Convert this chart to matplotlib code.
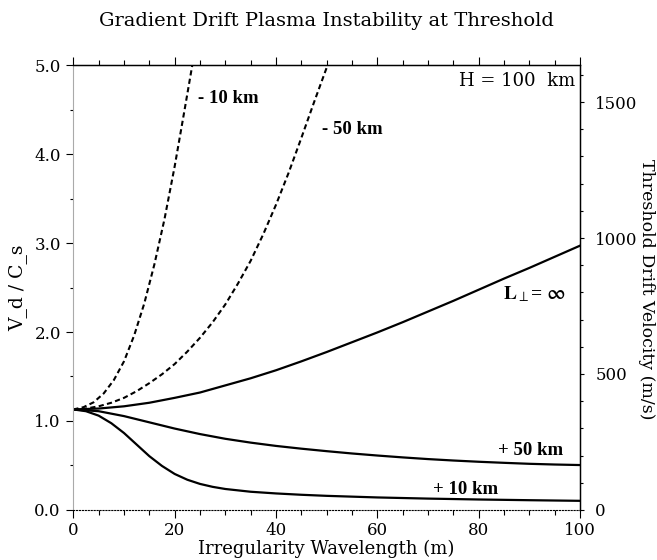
import numpy as np
import matplotlib
matplotlib.use('Agg')
import matplotlib.pyplot as plt
from matplotlib.ticker import MultipleLocator

plt.rcParams['mathtext.fontset'] = 'stix'

# curves: wavelength (m) -> V_d / C_s
x_inf = [0, 5, 10, 15, 20, 25, 30, 35, 40, 45, 50, 55, 60, 65, 70, 75, 80, 85, 90, 95, 100]
v_inf = [1.13, 1.14, 1.165, 1.205, 1.26, 1.32, 1.40, 1.48, 1.57, 1.67, 1.775, 1.885, 1.995, 2.11, 2.23, 2.35, 2.475, 2.60, 2.72, 2.845, 2.97]

x_p50 = [0, 5, 10, 15, 20, 25, 30, 35, 40, 45, 50, 55, 60, 65, 70, 75, 80, 85, 90, 95, 100]
v_p50 = [1.13, 1.11, 1.055, 0.985, 0.915, 0.853, 0.80, 0.757, 0.72, 0.689, 0.661, 0.635, 0.612, 0.591, 0.572, 0.556, 0.542, 0.53, 0.519, 0.511, 0.505]

x_p10 = [0, 2.5, 5, 7.5, 10, 12.5, 15, 17.5, 20, 22.5, 25, 27.5, 30, 35, 40, 45, 50, 60, 70, 80, 90, 100]
v_p10 = [1.13, 1.11, 1.06, 0.975, 0.865, 0.735, 0.605, 0.495, 0.405, 0.34, 0.293, 0.26, 0.236, 0.205, 0.186, 0.171, 0.159, 0.141, 0.128, 0.118, 0.11, 0.103]

x_m10 = [0, 2, 4, 6, 8, 10, 12, 14, 16, 18, 20, 22, 24]
v_m10 = [1.13, 1.155, 1.21, 1.31, 1.46, 1.67, 1.96, 2.32, 2.76, 3.27, 3.86, 4.51, 5.17]

x_m50 = [0, 2.5, 5, 7.5, 10, 12.5, 15, 17.5, 20, 22.5, 25, 27.5, 30, 32.5, 35, 37.5, 40, 42.5, 45, 47.5, 50, 52.5]
v_m50 = [1.13, 1.14, 1.165, 1.205, 1.26, 1.335, 1.425, 1.525, 1.64, 1.78, 1.935, 2.11, 2.31, 2.545, 2.80, 3.10, 3.43, 3.79, 4.18, 4.58, 4.97, 5.36]

cs = 327.2  # m/s per unit of V_d/C_s (right axis)

serif = 'DejaVu Serif'
bold = 'Liberation Serif'

fig = plt.figure(figsize=(6.57, 5.6), dpi=100)
ax = fig.add_axes([0.1116, 0.0893, 0.7712, 0.7946])

ax.plot(x_inf, v_inf, color='black', lw=1.6)
ax.plot(x_p50, v_p50, color='black', lw=1.6)
ax.plot(x_p10, v_p10, color='black', lw=1.6)
ax.plot(x_m10, v_m10, color='black', lw=1.5, ls=(0, (2.5, 1.6)))
ax.plot(x_m50, v_m50, color='black', lw=1.5, ls=(0, (2.5, 1.6)))

ax.set_xlim(0, 100)
ax.set_ylim(0, 5.0)

ax.xaxis.set_major_locator(MultipleLocator(20))
ax.xaxis.set_minor_locator(MultipleLocator(5))
ax.yaxis.set_major_locator(MultipleLocator(1.0))
ax.yaxis.set_minor_locator(MultipleLocator(0.5))
ax.set_yticklabels(['%.1f' % v for v in ax.get_yticks()])
ax.tick_params(axis='x', which='both', direction='out', top=True, labeltop=False, width=0.8)
ax.tick_params(axis='x', which='major', length=6, pad=3, labelsize=12)
ax.tick_params(axis='x', which='minor', length=3.5)
ax.tick_params(axis='y', which='major', direction='out', length=5, pad=4, labelsize=12, width=0.8)
ax.tick_params(axis='y', which='minor', direction='out', length=2, width=0.8)
for lab in ax.get_xticklabels() + ax.get_yticklabels():
    lab.set_family(serif)

ax.spines['left'].set_color('#aaaaaa')
ax.spines['bottom'].set_linestyle(':')
ax.spines['bottom'].set_linewidth(0.8)
ax.spines['top'].set_linewidth(1.0)

ax2 = ax.twinx()
ax2.set_ylim(0, 5.0 * cs)
ax2.yaxis.set_major_locator(MultipleLocator(500))
ax2.yaxis.set_minor_locator(MultipleLocator(100))
ax2.tick_params(axis='y', which='major', direction='out', length=3, pad=8, labelsize=12, width=0.8)
ax2.tick_params(axis='y', which='minor', direction='out', length=2, width=0.8)
for lab in ax2.get_yticklabels():
    lab.set_family(serif)
ax2.spines['right'].set_linewidth(1.0)
ax2.spines['left'].set_visible(False)
ax2.spines['bottom'].set_visible(False)

ax.set_xlabel('Irregularity Wavelength (m)', family=serif, fontsize=13, labelpad=0)
fig.text(18 / 657, 0.487, 'V_d / C_s', family=serif, fontsize=13.5, rotation=90,
         ha='center', va='center')
fig.text(646 / 657, 0.483, 'Threshold Drift Velocity (m/s)', family=serif, fontsize=12.5,
         rotation=-90, ha='center', va='center')
fig.text(0.497, 0.963, 'Gradient Drift Plasma Instability at Threshold', family=serif, fontsize=14,
         ha='center', va='center')

ax.text(99.0, 4.82, 'H = 100  km', family=serif, fontsize=13, ha='right', va='center')
ax.text(24.7, 4.62, '- 10 km', family=bold, weight='bold', fontsize=13.5, va='center')
ax.text(49.0, 4.27, '- 50 km', family=bold, weight='bold', fontsize=13.5, va='center')
ax.text(84.9, 2.43, r'$\mathbf{L}_{\perp}$= $\mathbf{\infty}$', family=bold, weight='bold', fontsize=14,
        va='center')
ax.text(83.9, 0.67, '+ 50 km', family=bold, weight='bold', fontsize=13.5, va='center')
ax.text(71.0, 0.23, '+ 10 km', family=bold, weight='bold', fontsize=13.5, va='center')

fig.savefig('out.png', dpi=100)
